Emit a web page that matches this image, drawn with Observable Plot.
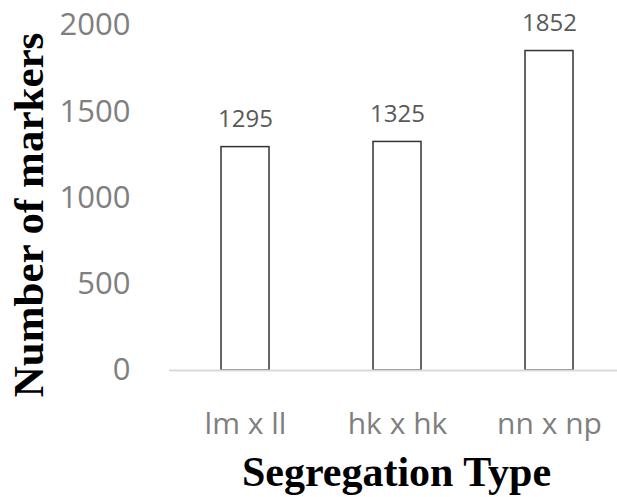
<!DOCTYPE html>
<html>
<head>
<meta charset="utf-8">
<script src="https://cdn.jsdelivr.net/npm/d3@7"></script>
<script src="https://cdn.jsdelivr.net/npm/@observablehq/plot@0.6"></script>
<style>
  html, body { margin: 0; padding: 0; background: #fff; }
</style>
</head>
<body>
<div id="chart"></div>
<script>
const categories = ["lm x ll", "hk x hk", "nn x np"];
const markers = [1295, 1325, 1852];
const yTicks = [0, 500, 1000, 1500, 2000];
const xTitle = "Segregation Type";
const yTitle = "Number of markers";

const data = categories.map((c, i) => ({type: c, value: markers[i]}));

const chart = Plot.plot({
  width: 617,
  height: 497,
  marginLeft: 169,
  marginRight: 0,
  marginTop: 25,
  marginBottom: 127,
  style: {fontFamily: "'Open Sans', 'Noto Sans', sans-serif", background: "#fff"},
  x: {domain: categories, range: [169, 625], paddingInner: 0.684, paddingOuter: 0.342, label: null},
  y: {domain: [0, 2000], label: null},
  marks: [
    Plot.axisY({ticks: yTicks, tickFormat: d => String(d), tickSize: 0, tickPadding: 39, fontSize: 31, color: "#7f7f7f", label: null}),
    Plot.axisX({tickSize: 0, tickPadding: 42, fontSize: 30, color: "#7f7f7f", label: null}),
    Plot.barY(data, {x: "type", y: "value", fill: "white", stroke: "#333", strokeWidth: 1.5}),
    Plot.ruleY([0], {stroke: "#d9d9d9", strokeWidth: 2}),
    Plot.text(data, {x: "type", y: "value", text: d => String(d.value), lineAnchor: "bottom", dy: -20, fontSize: 24, fill: "#595959"}),
    Plot.text([xTitle], {frameAnchor: "bottom", text: d => d, lineAnchor: "bottom", dy: 115, dx: 3, fontSize: 42, fontWeight: "bold", fontFamily: "'Liberation Serif', 'Times New Roman', serif", fill: "#000"}),
    Plot.text([yTitle], {frameAnchor: "left", text: d => d, rotate: -90, textAnchor: "middle", lineAnchor: "middle", dx: -140, dy: 17, fontSize: 43, fontWeight: "bold", fontFamily: "'Liberation Serif', 'Times New Roman', serif", fill: "#000"})
  ]
});
document.getElementById("chart").appendChild(chart);
</script>
</body>
</html>
